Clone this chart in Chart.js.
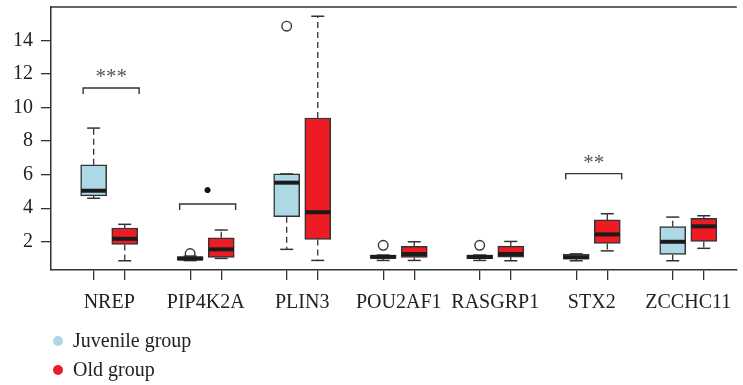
<!DOCTYPE html>
<html>
<head>
<meta charset="utf-8">
<script src="https://cdn.jsdelivr.net/npm/chart.js@4.4.1/dist/chart.umd.min.js"></script>
<style>
  html, body { margin: 0; padding: 0; background: #fff; overflow: hidden; }
  #wrap { position: relative; width: 743px; height: 385px; }
  #legend { position: absolute; left: 53px; top: 326px; font: 20px 'Liberation Serif', serif; color: #222; }
  .item { display: flex; align-items: center; height: 29px; }
  .dot { width: 10px; height: 10px; border-radius: 50%; margin-right: 10px; }
</style>
</head>
<body>
<div id="wrap">
  <canvas id="chart" width="743" height="385"></canvas>
  <div id="legend"></div>
</div>
<script>
const genes = ['NREP', 'PIP4K2A', 'PLIN3', 'POU2AF1', 'RASGRP1', 'STX2', 'ZCCHC11'];
const groups = ['Juvenile group', 'Old group'];
const yTicks = [2, 4, 6, 8, 10, 12, 14];

// five number summaries
const juvMin = [4.59, 0.88, 1.55, 0.89, 0.89, 0.87, 0.87];
const juvQ1  = [4.73, 0.90, 3.49, 1.01, 1.00, 0.97, 1.25];
const juvMed = [5.04, 1.00, 5.52, 1.10, 1.10, 1.08, 2.00];
const juvQ3  = [6.58, 1.12, 6.04, 1.21, 1.21, 1.25, 2.90];
const juvMax = [8.77, 1.15, 6.04, 1.21, 1.21, 1.28, 3.47];

const oldMin = [0.87, 1.01, 0.89, 0.89, 0.87, 1.46, 1.61];
const oldQ1  = [1.84, 1.07, 2.14, 1.07, 1.09, 1.90, 2.02];
const oldMed = [2.18, 1.55, 3.76, 1.27, 1.27, 2.44, 2.92];
const oldQ3  = [2.82, 2.24, 9.37, 1.73, 1.74, 3.30, 3.40];
const oldMax = [3.04, 2.70, 15.43, 2.00, 2.02, 3.67, 3.55];

// outliers (juvenile only)
const juvOutGene = [1, 2, 3, 4];
const juvOutVal  = [1.30, 14.84, 1.79, 1.79];

// significance brackets
const sigGene = [0, 1, 5];
const sigY    = [11.16, 4.25, 6.06];
const sigText = ['***', '\u2022', '**'];

const OFF = 0.161;           // half distance between the two boxes of a gene
const BLUE = '#ADD8E6';
const RED = '#ED1C24';
const INK = '#333';
const FONT = "'Liberation Serif', serif";

const boxPos = [];
genes.forEach((g, i) => { boxPos.push(i - OFF, i + OFF); });

const boxExtras = {
    id: 'boxExtras',
    afterDatasetsDraw(chart) {
        const { ctx, chartArea, scales: { x, y } } = chart;
        const sets = [
            { off: -OFF, min: juvMin, med: juvMed, q1: juvQ1, q3: juvQ3, max: juvMax },
            { off: OFF, min: oldMin, med: oldMed, q1: oldQ1, q3: oldQ3, max: oldMax }
        ];
        const seg = (x1, y1, x2, y2) => { ctx.beginPath(); ctx.moveTo(x1, y1); ctx.lineTo(x2, y2); ctx.stroke(); };
        ctx.save();
        sets.forEach(s => {
            genes.forEach((g, i) => {
                const px = x.getPixelForValue(i + s.off);
                const yMin = y.getPixelForValue(s.min[i]);
                const yMax = y.getPixelForValue(s.max[i]);
                const yQ1 = y.getPixelForValue(s.q1[i]);
                const yQ3 = y.getPixelForValue(s.q3[i]);
                const yMed = y.getPixelForValue(s.med[i]);
                ctx.strokeStyle = INK;
                ctx.lineWidth = 1.3;
                ctx.setLineDash([6, 4]);
                if (yMax < yQ3) seg(px, yQ3, px, yMax);
                if (yMin > yQ1) seg(px, yQ1, px, yMin);
                ctx.setLineDash([]);
                ctx.lineWidth = 1.5;
                seg(px - 6.5, yMax, px + 6.5, yMax);
                seg(px - 6.5, yMin, px + 6.5, yMin);
                ctx.lineWidth = 4;
                ctx.strokeStyle = '#1b1b1b';
                seg(px - 12.5, yMed, px + 12.5, yMed);
            });
        });

        // significance brackets
        ctx.strokeStyle = INK;
        ctx.lineWidth = 1.4;
        ctx.textAlign = 'center';
        ctx.textBaseline = 'alphabetic';
        sigGene.forEach((gi, k) => {
            const xl = x.getPixelForValue(gi - 0.27);
            const xr = x.getPixelForValue(gi + 0.31);
            const yb = y.getPixelForValue(sigY[k]);
            ctx.beginPath();
            ctx.moveTo(xl, yb + 6);
            ctx.lineTo(xl, yb);
            ctx.lineTo(xr, yb);
            ctx.lineTo(xr, yb + 6);
            ctx.stroke();
            const bullet = sigText[k] === '\u2022';
            ctx.fillStyle = bullet ? '#111' : '#555';
            ctx.font = (bullet ? '26px ' : '21px ') + FONT;
            ctx.fillText(sigText[k], (xl + xr) / 2, yb - (bullet ? 5 : 5));
        });

        // top frame line
        ctx.strokeStyle = INK;
        ctx.lineWidth = 1.5;
        seg(chartArea.left, chartArea.top, chartArea.right, chartArea.top);
        ctx.restore();
    }
};

const chart = new Chart(document.getElementById('chart'), {
    type: 'bar',
    data: {
        datasets: [
            {
                label: groups[0],
                data: genes.map((g, i) => ({ x: i - OFF, y: [juvQ1[i], juvQ3[i]] })),
                backgroundColor: BLUE,
                borderColor: INK,
                borderWidth: 1.5,
                borderSkipped: false,
                barThickness: 26,
                grouped: false
            },
            {
                label: groups[1],
                data: genes.map((g, i) => ({ x: i + OFF, y: [oldQ1[i], oldQ3[i]] })),
                backgroundColor: RED,
                borderColor: INK,
                borderWidth: 1.5,
                borderSkipped: false,
                barThickness: 26,
                grouped: false
            },
            {
                type: 'scatter',
                label: 'outliers',
                data: juvOutGene.map((gi, k) => ({ x: gi - OFF, y: juvOutVal[k] })),
                pointRadius: 4.8,
                pointBackgroundColor: 'rgba(0,0,0,0)',
                pointBorderColor: INK,
                pointBorderWidth: 1.4
            }
        ]
    },
    options: {
        responsive: false,
        animation: false,
        events: [],
        layout: { padding: { top: 7, left: 0, right: 0, bottom: 65 } },
        plugins: { legend: { display: false }, tooltip: { enabled: false } },
        scales: {
            x: {
                type: 'linear',
                position: 'bottom',
                min: -0.603,
                max: 6.503,
                offset: false,
                afterBuildTicks: s => { s.ticks = boxPos.map(v => ({ value: v })); },
                afterFit: s => { s.height = 10; },
                ticks: { callback: () => '', autoSkip: false, maxRotation: 0, padding: 0 },
                grid: { drawOnChartArea: false, offset: false, tickLength: 10, color: INK, lineWidth: 1.3 },
                border: { display: true, color: INK, width: 1.5 }
            },
            x2: {
                type: 'linear',
                position: 'bottom',
                min: -0.603,
                max: 6.503,
                offset: false,
                afterBuildTicks: s => { s.ticks = genes.map((g, i) => ({ value: i })); },
                afterFit: s => { s.height = 40; },
                ticks: {
                    callback: (v) => genes[Math.round(v)],
                    autoSkip: false, maxRotation: 0, padding: 3,
                    color: '#222', font: { family: FONT, size: 20 }
                },
                grid: { display: false, offset: false },
                border: { display: false }
            },
            y: {
                min: 0.32,
                max: 15.98,
                afterBuildTicks: s => { s.ticks = yTicks.map(v => ({ value: v })); },
                afterFit: s => { s.width = 51; s.paddingTop = 0; s.paddingBottom = 0; },
                ticks: { color: '#222', padding: 8, font: { family: FONT, size: 20 } },
                grid: { drawOnChartArea: false, tickLength: 10, color: INK, lineWidth: 1.3 },
                border: { display: true, color: INK, width: 1.5 }
            }
        }
    },
    plugins: [boxExtras]
});

// legend list, built from the two box datasets
const legend = document.getElementById('legend');
chart.data.datasets.slice(0, 2).forEach(ds => {
    const item = document.createElement('div');
    item.className = 'item';
    const dot = document.createElement('span');
    dot.className = 'dot';
    dot.style.background = ds.backgroundColor;
    const txt = document.createElement('span');
    txt.textContent = ds.label;
    item.appendChild(dot);
    item.appendChild(txt);
    legend.appendChild(item);
});
</script>
</body>
</html>
